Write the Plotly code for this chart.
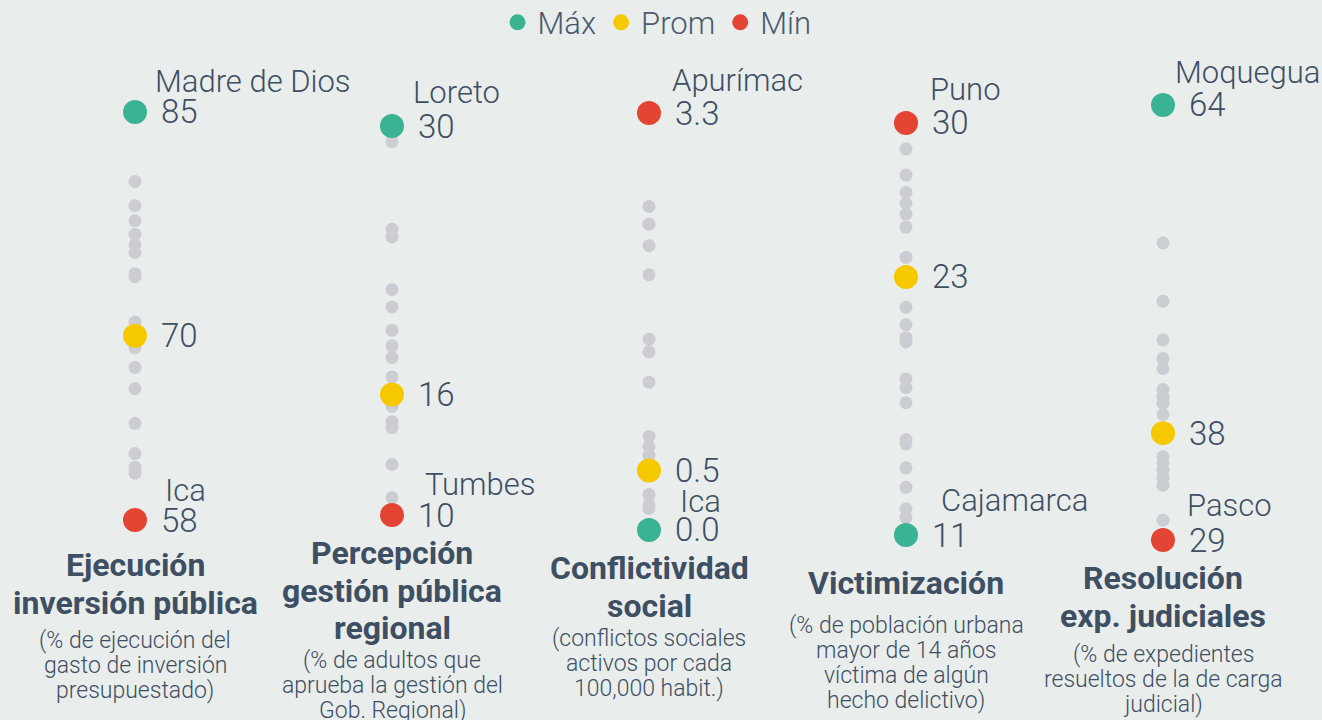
import plotly.graph_objects as go

# Indicadores regionales: mejor, promedio y peor región por indicador
titles = ["Ejecución<br>inversión pública",
          "Percepción<br>gestión pública<br>regional",
          "Conflictividad<br>social",
          "Victimización",
          "Resolución<br>exp. judiciales"]
subtitles = ["(% de ejecución del<br>gasto de inversión<br>presupuestado)",
             "(% de adultos que<br>aprueba la gestión del<br>Gob. Regional)",
             "(conflictos sociales<br>activos por cada<br>100,000 habit.)",
             "(% de población urbana<br>mayor de 14 años<br>víctima de algún<br>hecho delictivo)",
             "(% de expedientes<br>resueltos de la de carga<br>judicial)"]

best_regions = ["Madre de Dios", "Loreto", "Ica", "Cajamarca", "Moquegua"]
best_values = [85, 30, 0.0, 11, 64]
worst_regions = ["Ica", "Tumbes", "Apurímac", "Puno", "Pasco"]
worst_values = [58, 10, 3.3, 30, 29]
avg_values = [70.2, 16.2, 0.47, 22.9, 37.6]
decimals = [0, 0, 1, 0, 0]

# resto de regiones (puntos grises)
ejecucion_otros = [80.4, 78.8, 77.8, 76.9, 76.2, 75.7, 74.3, 74.1, 71.1, 69.4,
                   68.1, 66.7, 64.4, 62.4, 61.5, 61.1]
percepcion_otros = [29.2, 24.7, 24.3, 21.6, 20.7, 19.5, 18.7, 18.1, 17.1, 15.6,
                    14.8, 14.5, 12.6, 10.9]
conflictividad_otros = [2.56, 2.42, 2.25, 2.02, 1.51, 1.41, 1.17, 0.74, 0.66,
                        0.59, 0.28, 0.20, 0.17]
victimizacion_otros = [28.8, 27.6, 26.8, 26.3, 25.8, 25.2, 23.8, 21.5, 20.7,
                       20.1, 19.9, 18.2, 17.8, 17.1, 15.4, 15.2, 14.1, 13.2,
                       12.2, 11.8]
resolucion_otros = [52.9, 48.2, 45.1, 43.6, 42.8, 41.1, 40.5, 40.0, 39.1, 35.7,
                    35.2, 34.6, 34.0, 33.4, 30.6]
others = [ejecucion_otros, percepcion_otros, conflictividad_otros,
          victimizacion_otros, resolucion_otros]

# layout / style
W, H = 1322, 720
col_px = [135, 392, 649, 906, 1163]
y_ranges = [[56.35, 85.79], [8.46, 31.34], [-0.119, 3.403], [10.54, 31.06], [28.6, 64.4]]
plot_top, plot_bot = 100, 545
title_y = [565, 553, 568, 583, 578]   # centre of first title line (px)
sub_y = [640, 660, 638, 625, 654]     # centre of first subtitle line (px)
TITLE_LH, SUB_LH = 37.5, 25.3
# label offsets (px) for region names: best / worst
best_dx, best_dy = [18, 19, 29, 33, 10], [30, 34, 28, 35, 32]
worst_dx, worst_dy = [28, 31, 21, 22, 22], [30, 31, 33, 33, 35]

GREEN, YELLOW, RED, GRAY = "#3ab393", "#f5c800", "#e44434", "#cbcdd2"
TXT = "#3e4f63"
LIGHT = dict(family="Roboto, Open Sans, sans-serif", color=TXT, weight=300)
BOLD = dict(family="Roboto, sans-serif", color=TXT, weight=700)

fig = go.Figure()
ann = []
for i in range(5):
    ax = "" if i == 0 else str(i + 1)
    xr, yr = "x" + ax, "y" + ax
    c = col_px[i] / W
    fig.add_trace(go.Scatter(x=[0] * len(others[i]), y=others[i], mode="markers",
                             marker=dict(size=13, color=GRAY), showlegend=False,
                             cliponaxis=False, xaxis=xr, yaxis=yr, hoverinfo="y"))
    for name, val, col in [("Máx", best_values[i], GREEN),
                           ("Prom", avg_values[i], YELLOW),
                           ("Mín", worst_values[i], RED)]:
        fig.add_trace(go.Scatter(x=[0], y=[val], mode="markers", name=name,
                                 legendgroup=name, showlegend=(i == 0),
                                 marker=dict(size=24, color=col), cliponaxis=False,
                                 xaxis=xr, yaxis=yr, hoverinfo="y"))
        ann.append(dict(x=0, y=val, xref=xr, yref=yr, text=f"{val:.{decimals[i]}f}",
                        showarrow=False, xanchor="left", yanchor="middle", xshift=24,
                        font=dict(LIGHT, size=33)))
    for reg, val, dx, dy in [(best_regions[i], best_values[i], best_dx[i], best_dy[i]),
                             (worst_regions[i], worst_values[i], worst_dx[i], worst_dy[i])]:
        ann.append(dict(x=0, y=val, xref=xr, yref=yr, text=reg, showarrow=False,
                        xanchor="left", yanchor="middle", xshift=dx, yshift=dy,
                        font=dict(LIGHT, size=31)))
    # titles and subtitles, one annotation per line to control line spacing
    for k, line in enumerate(titles[i].split("<br>")):
        ann.append(dict(x=c, y=1 - (title_y[i] + k * TITLE_LH) / H, xref="paper",
                        yref="paper", text=line, showarrow=False, xanchor="center",
                        yanchor="middle", font=dict(BOLD, size=32)))
    for k, line in enumerate(subtitles[i].split("<br>")):
        ann.append(dict(x=c, y=1 - (sub_y[i] + k * SUB_LH) / H, xref="paper",
                        yref="paper", text=line, showarrow=False, xanchor="center",
                        yanchor="middle", font=dict(LIGHT, size=23)))
    axis_common = dict(showgrid=False, zeroline=False, showticklabels=False,
                       showline=False, fixedrange=True)
    fig.layout["xaxis" + ax] = dict(axis_common, domain=[c - 0.03, c + 0.03],
                                    range=[-1, 1], anchor=yr)
    fig.layout["yaxis" + ax] = dict(axis_common, range=y_ranges[i], anchor=xr,
                                    domain=[1 - plot_bot / H, 1 - plot_top / H])

fig.update_layout(
    width=W, height=H, margin=dict(l=0, r=0, t=0, b=0, autoexpand=False),
    paper_bgcolor="#e9edec", plot_bgcolor="#e9edec",
    annotations=ann,
    legend=dict(orientation="h", x=0.497, xanchor="center", y=1.006, yanchor="top",
                font=dict(family="Roboto, sans-serif", size=31, color="#4a5a6e", weight=300),
                bgcolor="rgba(0,0,0,0)", itemclick=False, itemdoubleclick=False),
)

fig.write_html("out.html", config={"displayModeBar": False},
               post_script="document.body.style.margin='0';")
